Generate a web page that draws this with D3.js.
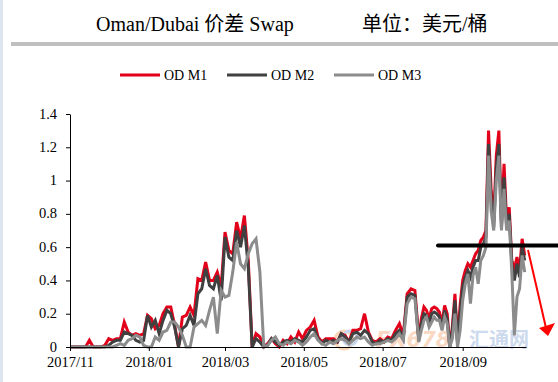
<!DOCTYPE html>
<html><head><meta charset="utf-8">
<script src="https://cdn.jsdelivr.net/npm/d3@7"></script>
<style>body{margin:0;background:#fff}svg{display:block}</style>
</head><body><svg id="c" width="558" height="382"></svg>
<script>
const dates = [
"2017-11-01","2017-11-04","2017-11-07","2017-11-10","2017-11-13","2017-11-16","2017-11-19","2017-11-22","2017-11-25","2017-11-28",
"2017-12-01","2017-12-04","2017-12-07","2017-12-10","2017-12-13","2017-12-16","2017-12-19","2017-12-22","2017-12-25","2017-12-28",
"2017-12-31","2018-01-03","2018-01-06","2018-01-09","2018-01-12","2018-01-15","2018-01-18","2018-01-21","2018-01-24","2018-01-27",
"2018-01-30","2018-02-02","2018-02-05","2018-02-08","2018-02-11","2018-02-14","2018-02-17","2018-02-20","2018-02-23","2018-02-26",
"2018-03-01","2018-03-04","2018-03-07","2018-03-10","2018-03-13","2018-03-16","2018-03-19","2018-03-22","2018-03-25","2018-03-28",
"2018-03-31","2018-04-03","2018-04-06","2018-04-09","2018-04-12","2018-04-15","2018-04-18","2018-04-21","2018-04-24","2018-04-27",
"2018-04-30","2018-05-03","2018-05-06","2018-05-09","2018-05-12","2018-05-15","2018-05-18","2018-05-21","2018-05-24","2018-05-27",
"2018-05-30","2018-06-02","2018-06-05","2018-06-08","2018-06-11","2018-06-14","2018-06-17","2018-06-20","2018-06-23","2018-06-26",
"2018-06-29","2018-07-02","2018-07-05","2018-07-08","2018-07-11","2018-07-14","2018-07-17","2018-07-20","2018-07-23","2018-07-26",
"2018-07-29",
"2018-07-31","2018-08-02","2018-08-04","2018-08-06","2018-08-08","2018-08-10","2018-08-12","2018-08-14","2018-08-16","2018-08-18",
"2018-08-20","2018-08-22","2018-08-24","2018-08-26","2018-08-28","2018-08-30","2018-09-01","2018-09-03","2018-09-05","2018-09-07",
"2018-09-09","2018-09-11","2018-09-13","2018-09-15","2018-09-17","2018-09-19","2018-09-21","2018-09-23","2018-09-25","2018-09-27",
"2018-09-29","2018-10-01","2018-10-03","2018-10-05","2018-10-07","2018-10-09","2018-10-11","2018-10-13","2018-10-15","2018-10-17",
"2018-10-19"];

const odM1 = [
0,0,0,0,0,0.04,0,0,0,0.01,
0.05,0.04,0.05,0.05,0.15,0.09,0.07,0.08,0.07,0.08,
0.19,0.17,0.11,0.13,0.2,0.24,0.24,0.13,0,0.18,
0.19,0.24,0.19,0.41,0.4,0.51,0.4,0.4,0.45,0.36,
0.69,0.58,0.56,0.75,0.65,0.79,0.52,0,0.08,0.06,
0,0.02,0.05,0.02,0,0.04,0.02,0.06,0.03,0.09,
0.05,0.1,0.12,0.16,0.06,0.03,0.05,0.05,0.05,0.03,
0.08,0.07,0.03,0.1,0.1,0.11,0.2,0.09,0.04,0.03,
0.05,0.03,0.06,0.05,0.1,0.14,0.07,0.32,0.35,0.34,
0.05,
0.17,0.24,0.22,0.17,0.23,0.24,0.23,0.21,0.14,0.25,
0.2,0,0.12,0.32,0.03,0.25,0.4,0.46,0.5,0.48,
0.52,0.56,0.58,0.64,0.66,0.7,1.3,0.95,0.76,1.15,
1.3,0.75,1.1,0.76,0.84,0.52,0.47,0.54,0.46,0.65,
0.55];

const odM2 = [
0,0,0,0,0,0,0,0,0,0,
0.01,0.03,0.04,0.04,0.09,0.08,0.07,0.04,0.03,0.04,
0.19,0.12,0.16,0.08,0.16,0.22,0.2,0.12,0,0.11,
0.13,0.19,0.13,0.32,0.35,0.47,0.37,0.35,0.43,0.28,
0.66,0.54,0.52,0.7,0.6,0.73,0.48,0,0.05,0.03,
0,0.01,0.05,0.03,0.01,0.03,0.04,0.03,0.05,0.04,
0.03,0.06,0.1,0.11,0.05,0.02,0.04,0.03,0.04,0.03,
0.08,0.06,0.03,0.08,0.09,0.07,0.1,0.08,0.03,0.02,
0.04,0.03,0.05,0.04,0.08,0.1,0.05,0.3,0.32,0.31,
0.04,
0.14,0.2,0.19,0.14,0.2,0.21,0.2,0.18,0.12,0.22,
0.17,0,0.1,0.28,0.02,0.2,0.36,0.42,0.46,0.42,
0.48,0.52,0.52,0.6,0.62,0.66,1.22,0.88,0.72,1.08,
1.22,0.72,1.02,0.72,0.8,0.5,0.4,0.5,0.42,0.6,
0.52];

const odM3 = [
0,0,0,0,0,0,0,0,0,0,
0,0,0.01,0.02,0.01,0.04,0.05,0.07,0.06,0.01,
0,0,0.06,0.04,0.09,0.1,0.15,0.15,0.12,0.07,
0,0,0.12,0.14,0.16,0.13,0.22,0.3,0.08,0.34,
0.3,0.31,0.45,0.63,0.5,0.47,0.56,0.62,0.65,0.45,
0,0.01,0.04,0.06,0.02,0.01,0.03,0.02,0.04,0.03,
0.01,0.03,0.06,0.08,0.04,0.02,0.01,0.03,0.02,0.04,
0.05,0.04,0.02,0.04,0.06,0.05,0.06,0.03,0.01,0.02,
0.02,0.03,0.04,0.03,0.05,0.08,0.04,0.26,0.3,0.29,
0.03,
0.1,0.16,0.18,0.12,0.15,0.18,0.16,0.16,0.1,0.18,
0.14,0,0.05,0.2,0,0.1,0.28,0.38,0.44,0.26,
0.43,0.48,0.38,0.52,0.55,0.6,1.15,0.82,0.7,1.0,
1.15,0.7,0.95,0.7,0.76,0.45,0.07,0.3,0.35,0.55,
0.45];

const seriesNames = ["OD M1","OD M2","OD M3"];
const seriesColors = ["#e3001b","#404040","#8c8c8c"];
const yTicks = [0,0.2,0.4,0.6,0.8,1,1.2,1.4];
const yTickLabels = ["0","0.2","0.4","0.6","0.8","1","1.2","1.4"];
const xTickDates = ["2017-11-01","2018-01-01","2018-03-01","2018-05-01","2018-07-01","2018-09-01"];
const xDomain = ["2017-11-01","2018-10-20"];
const titleText = "Oman/Dubai 价差 Swap";
const unitText = "单位：美元/桶";
const thresholdValue = 0.61;

const parse = d3.timeParse("%Y-%m-%d");
const svg = d3.select("#c");
const serif = "'Liberation Serif','Times New Roman','Noto Sans CJK SC',serif";

// left edge strip
svg.append("rect").attr("x",0).attr("y",0).attr("width",3).attr("height",382).attr("fill","#dde5f0");

// title
svg.append("text").attr("x",96).attr("y",31).attr("font-family",serif).attr("font-size",20).attr("fill","#000").text(titleText);
svg.append("text").attr("x",362).attr("y",31).attr("font-family",serif).attr("font-size",20).attr("fill","#000").text(unitText);
svg.append("rect").attr("x",11).attr("y",42).attr("width",547).attr("height",4).attr("fill","#c0c0c0");

// scales
const x = d3.scaleTime().domain(xDomain.map(parse)).range([70,526]);
const y = d3.scaleLinear().domain([0,1.4]).range([347,114]);

// legend
const legX = [120,227,334];
seriesNames.forEach((n,i)=>{
  svg.append("line").attr("x1",legX[i]).attr("x2",legX[i]+40).attr("y1",75).attr("y2",75)
    .attr("stroke",seriesColors[i]).attr("stroke-width",3);
  svg.append("text").attr("x",legX[i]+44).attr("y",80).attr("font-family",serif).attr("font-size",14).text(n);
});

// watermark
const wm = svg.append("g").attr("opacity",0.5);
wm.append("circle").attr("cx",344).attr("cy",340).attr("r",9).attr("fill","none").attr("stroke","#f3b27a").attr("stroke-width",3);
wm.append("circle").attr("cx",350).attr("cy",338).attr("r",7).attr("fill","none").attr("stroke","#8fb0dc").attr("stroke-width",3);
wm.append("text").attr("x",376).attr("y",347).attr("font-family","'DejaVu Sans',sans-serif").attr("font-weight","bold").attr("font-style","italic").attr("font-size",21).attr("fill","#f4b48a").text("FX678");
wm.append("text").attr("x",469).attr("y",347).attr("font-family","'Noto Sans CJK SC',sans-serif").attr("font-weight","bold").attr("font-size",20).attr("fill","#9cb6de").text("汇通网");

// lines
const data = dates.map((d,i)=>({date:parse(d), v:[odM1[i],odM2[i],odM3[i]]}));
[0,1,2].forEach(k=>{
  const line = d3.line().x(d=>x(d.date)).y(d=>y(d.v[k]));
  svg.append("path").datum(data).attr("d",line).attr("fill","none")
    .attr("stroke",seriesColors[k]).attr("stroke-width",3).attr("stroke-linejoin","miter");
});

// axes
const xAxis = d3.axisBottom(x).tickValues(xTickDates.map(parse)).tickFormat(d3.timeFormat("%Y/%m")).tickSize(4).tickPadding(6).tickSizeOuter(0);
const gx = svg.append("g").attr("transform","translate(0,347)").call(xAxis);
gx.selectAll("text").attr("font-family",serif).attr("font-size",14.5).attr("fill","#000");
gx.selectAll("line,path").attr("stroke","#000");

const yAxis = d3.axisLeft(y).tickValues(yTicks).tickFormat((d,i)=>yTickLabels[i]).tickSize(4).tickPadding(9).tickSizeOuter(0);
const gy = svg.append("g").attr("transform","translate(70,0)").call(yAxis);
gy.selectAll("text").attr("font-family",serif).attr("font-size",14.5).attr("fill","#000").attr("dy","0.28em");
gy.selectAll("line,path").attr("stroke","#000");

// annotation: threshold line and arrow
svg.append("line").attr("x1",438).attr("x2",558).attr("y1",y(thresholdValue)).attr("y2",y(thresholdValue))
  .attr("stroke","#000").attr("stroke-width",4).attr("stroke-linecap","round");
svg.append("line").attr("x1",528).attr("y1",250).attr("x2",546).attr("y2",328).attr("stroke","#f00").attr("stroke-width",2);
svg.append("path").attr("d","M539,328L555,323L548,336Z").attr("fill","#f00");
</script></body></html>
